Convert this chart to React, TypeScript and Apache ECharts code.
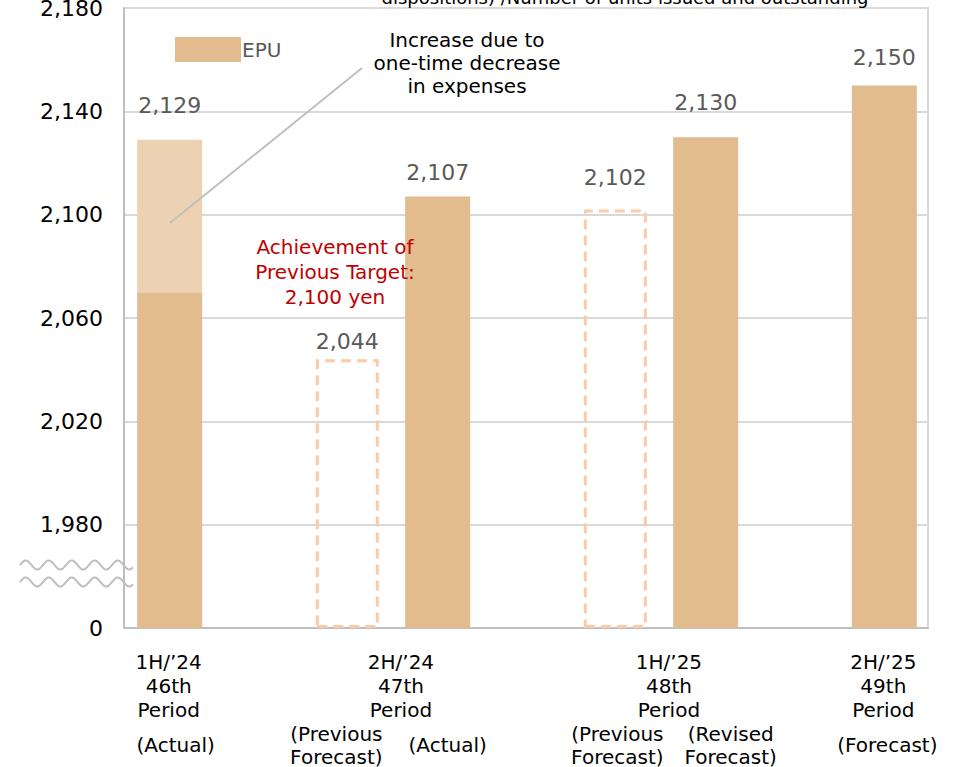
import React, { useEffect, useRef } from "react";
import * as echarts from "echarts";

// ---- data ----
const slots = ["46a", "47gap", "47prev", "47act", "48gap", "48prev", "48rev", "49gap", "49fc"];
const epuBase = [2070, null, null, 2107, null, null, 2130, null, 2150];
const oneTimeIncrease = [59, null, null, null, null, null, null, null, null];
const previousForecast = [null, null, 2044, null, null, 2102, null, null, null];
const subLabels = ["(Actual)", "", "(Previous\nForecast)", "(Actual)", "", "(Previous\nForecast)", "(Revised\nForecast)", "", "(Forecast)"];
const periodLabels = ["1H/\u201924\n46th\nPeriod", "2H/\u201924\n47th\nPeriod", "1H/\u201925\n48th\nPeriod", "2H/\u201925\n49th\nPeriod"];
const yTicks = [1940, 1980, 2020, 2060, 2100, 2140, 2180];
const brokenAxisValue = 1940; // shown as "0" (axis break)

// ---- layout (not data) ----
const periodPositions = [0, 2.6, 5.6, 8];
const subLabelShift = [7, 0, -11, 11, 0, 2, 26, 0, 4];
const labelDistance = [23, 0, 7, 13, 0, 21, 24, 0, 17];

const FONT = "'DejaVu Sans', Verdana, sans-serif";
const DARK = "#E2BB8F";
const LIGHT = "#ECD2B3";
const DASH = "#FBCBA8";

function wave(x0: number, x1: number, yc: number, amp: number, period: number) {
  const pts: number[][] = [];
  for (let x = x0; x <= x1; x += 1) {
    pts.push([x, yc - amp * Math.sin(((x - x0) / period) * Math.PI * 2)]);
  }
  return pts;
}

export default function App() {
  const ref = useRef<HTMLDivElement>(null);
  useEffect(() => {
    if (!ref.current) return;
    const chart = echarts.init(ref.current, null, { renderer: "svg" });
    const fmt = (v: number) => (v === brokenAxisValue ? "0" : v.toLocaleString("en-US"));
    const totals = epuBase.map((b, i) => (b == null ? null : b + (oneTimeIncrease[i] || 0)));
    const labelBase = {
      show: true,
      position: "top",
      fontSize: 22,
      color: "#595959",
      fontFamily: FONT,
    };
    const withLabel = (arr: (number | null)[], fmtFn: (i: number) => string, hide?: (i: number) => boolean) =>
      arr.map((v, i) =>
        v == null
          ? null
          : {
              value: v,
              label: { ...labelBase, show: !(hide && hide(i)), distance: labelDistance[i], formatter: () => fmtFn(i) },
            }
      );
    const pad = (s: number) => (s >= 0 ? [0, 0, 0, 2 * s] : [0, -2 * s, 0, 0]);
    const subLabelStyle = {
      fontSize: 20,
      lineHeight: 23,
      color: "#000",
      fontFamily: FONT,
      verticalAlign: "middle",
    };
    chart.setOption({
      animation: false,
      backgroundColor: "#fff",
      textStyle: { fontFamily: FONT },
      grid: {
        left: 124, right: 27, top: 8, bottom: 139,
        outerBoundsMode: "none",
        containLabel: false,
        show: true, borderColor: "#D9D9D9", borderWidth: 2, backgroundColor: "transparent",
      },
      legend: {
        data: ["EPU"],
        left: 175, top: 37,
        padding: 0,
        itemWidth: 66, itemHeight: 25, itemGap: 0,
        icon: "rect",
        textStyle: { color: "#595959", fontSize: 20, fontFamily: FONT, padding: [0, 0, 0, -4] },
      },
      xAxis: [
        {
          type: "category",
          data: slots.map((s, i) => ({ value: s, textStyle: { ...subLabelStyle, padding: pad(subLabelShift[i]) } })),
          axisLine: { onZero: false, lineStyle: { color: "#BFBFBF", width: 2 } },
          axisTick: { show: false },
          axisLabel: {
            ...subLabelStyle,
            interval: 0,
            margin: 117,
            formatter: (_v: string, i: number) => subLabels[i],
          },
        },
        {
          type: "value",
          min: -0.5,
          max: 8.5,
          position: "bottom",
          axisLine: { show: false, onZero: false },
          axisTick: { show: false },
          splitLine: { show: false },
          axisLabel: {
            customValues: periodPositions,
            margin: 22,
            verticalAlign: "top",
            fontSize: 20,
            lineHeight: 24,
            color: "#000",
            fontFamily: FONT,
            formatter: (v: number) => {
              let best = 0;
              periodPositions.forEach((p, i) => {
                if (Math.abs(p - v) < Math.abs(periodPositions[best] - v)) best = i;
              });
              return periodLabels[best];
            },
          },
        },
      ],
      yAxis: {
        type: "value",
        min: yTicks[0],
        max: yTicks[yTicks.length - 1],
        interval: 40,
        startValue: brokenAxisValue,
        axisLine: { show: true, onZero: false, lineStyle: { color: "#BFBFBF", width: 2 } },
        axisTick: { show: false },
        splitLine: { lineStyle: { color: "#D9D9D9", width: 2 } },
        axisLabel: { fontSize: 22, color: "#000", margin: 21, fontFamily: FONT, formatter: fmt },
      },
      series: [
        {
          name: "EPU",
          type: "bar",
          stack: "epu",
          barWidth: 65,
          barGap: "-100%",
          data: withLabel(epuBase, (i) => fmt(totals[i] as number), (i) => !!oneTimeIncrease[i]),
          itemStyle: { color: DARK },
        },
        {
          name: "One-time increase",
          type: "bar",
          stack: "epu",
          barWidth: 65,
          barGap: "-100%",
          data: withLabel(oneTimeIncrease, (i) => fmt(totals[i] as number)),
          itemStyle: { color: LIGHT },
        },
        {
          name: "Previous Forecast",
          type: "bar",
          barWidth: 63,
          barGap: "-100%",
          data: withLabel(previousForecast, (i) => fmt(previousForecast[i] as number)),
          itemStyle: {
            color: "rgba(255,255,255,0)",
            borderColor: DASH,
            borderWidth: 3,
            borderType: [10, 6],
          },
        },
      ],
      graphic: [
        {
          type: "text",
          z: 100,
          style: {
            text: "dispositions) /Number of units issued and outstanding",
            x: 625, y: -3,
            align: "center",
            verticalAlign: "middle",
            fontSize: 18,
            fontFamily: FONT,
            fill: "#000",
          },
        },
        {
          type: "line",
          z: 100,
          shape: { x1: 170, y1: 223, x2: 362, y2: 68 },
          style: { stroke: "#BFBFBF", lineWidth: 2 },
        },
        {
          type: "text",
          z: 100,
          style: {
            text: "Increase due to\none-time decrease\nin expenses",
            x: 467, y: 28,
            align: "center",
            fontSize: 20,
            lineHeight: 23,
            fontFamily: FONT,
            fill: "#000",
          },
        },
        {
          type: "text",
          z: 100,
          style: {
            text: "Achievement of\nPrevious Target:\n2,100 yen",
            x: 335, y: 234,
            align: "center",
            fontSize: 20,
            lineHeight: 25,
            fontFamily: FONT,
            fill: "#C00000",
          },
        },
        {
          type: "polyline",
          z: 100,
          shape: { points: wave(20, 133, 565, 4.5, 23) },
          style: { stroke: "#BFBFBF", lineWidth: 2, fill: null },
        },
        {
          type: "polyline",
          z: 100,
          shape: { points: wave(20, 133, 582, 4.5, 23) },
          style: { stroke: "#BFBFBF", lineWidth: 2, fill: null },
        },
      ],
    });
    return () => chart.dispose();
  }, []);
  return (
    <div
      ref={ref}
      style={{ position: "fixed", left: 0, top: 0, width: 955, height: 767 }}
    />
  );
}
